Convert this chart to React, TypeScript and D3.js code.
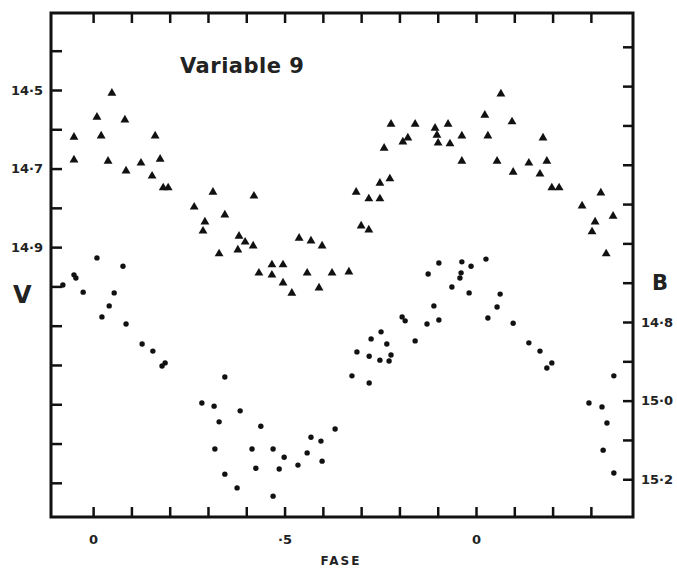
import React, { useEffect, useRef } from "react";
import * as d3 from "d3";

// V magnitudes (triangles)
const phaseV = [
  -0.05, -0.05, 0.01, 0.021, 0.049, 0.039, 0.083, 0.086, 0.125, 0.162, 0.175, 0.154, 0.183, 0.196,
  0.264, 0.313, 0.292, 0.287, 0.344, 0.42, 0.381, 0.397, 0.418, 0.378, 0.329, 0.538, 0.569, 0.598,
  0.433, 0.467, 0.467, 0.496, 0.496, 0.519, 0.559, 0.59, 0.624, 0.668, 0.687, 0.72, 0.749, 0.749,
  0.775, 0.7, 0.72, 0.76, 0.778, 0.809, 0.822, 0.841, 0.893, 0.898, 0.901, 0.927, 0.932, 0.963,
  0.963, 1.023, 1.065, 1.094, 1.031, 1.055, 1.097, 1.138, 1.175, 1.185, 1.167, 1.198, 1.217, 1.277,
  1.326, 1.358, 1.311, 1.303, 1.34
];
const magV = [
  14.62, 14.678, 14.569, 14.617, 14.508, 14.681, 14.576, 14.706, 14.686, 14.617, 14.676, 14.719, 14.749, 14.749,
  14.798, 14.76, 14.836, 14.859, 14.818, 14.77, 14.872, 14.887, 14.897, 14.907, 14.917, 14.877, 14.884, 14.897,
  14.966, 14.945, 14.971, 14.945, 14.991, 15.017, 14.966, 15.004, 14.966, 14.963, 14.76, 14.777, 14.777, 14.737,
  14.726, 14.846, 14.856, 14.648, 14.587, 14.632, 14.622, 14.587, 14.597, 14.615, 14.635, 14.587, 14.637, 14.617,
  14.681, 14.564, 14.51, 14.581, 14.617, 14.681, 14.709, 14.686, 14.622, 14.681, 14.714, 14.749, 14.749, 14.795,
  14.762, 14.821, 14.836, 14.861, 14.917
];

// B magnitudes (dots)
const phaseB = [
  -0.079, -0.05, -0.045, 0.01, 0.078, -0.026, 0.055, 0.042, 0.023, 0.086, 0.128, 0.156, 0.18, 0.188,
  0.344, 0.284, 0.316, 0.384, 0.329, 0.438, 0.318, 0.415, 0.47, 0.499, 0.425, 0.486, 0.344, 0.376,
  0.47, 0.535, 0.559, 0.569, 0.595, 0.598, 0.632, 0.676, 0.721, 0.689, 0.721, 0.749, 0.778, 0.773,
  0.726, 0.752, 0.767, 0.807, 0.815, 0.841, 0.872, 0.89, 0.903, 0.875, 0.903, 0.937, 0.961, 0.958,
  0.963, 0.987, 0.982, 1.026, 1.031, 1.055, 1.063, 1.097, 1.138, 1.167, 1.185, 1.198, 1.36, 1.295,
  1.329, 1.342, 1.332, 1.36
];
const magB = [
  14.706, 14.68, 14.688, 14.637, 14.658, 14.724, 14.726, 14.759, 14.787, 14.805, 14.856, 14.874, 14.912, 14.904,
  14.94, 15.006, 15.014, 15.026, 15.054, 15.065, 15.123, 15.123, 15.123, 15.144, 15.172, 15.174, 15.187, 15.222,
  15.243, 15.164, 15.133, 15.093, 15.103, 15.154, 15.072, 14.937, 14.955, 14.876, 14.887, 14.897, 14.884, 14.899,
  14.843, 14.825, 14.856, 14.787, 14.797, 14.848, 14.805, 14.759, 14.795, 14.678, 14.65, 14.711, 14.675, 14.688,
  14.647, 14.658, 14.726, 14.64, 14.79, 14.762, 14.729, 14.803, 14.853, 14.874, 14.917, 14.904, 14.937, 15.006,
  15.016, 15.057, 15.126, 15.184
];

const phaseTicks = [0, 0.1, 0.2, 0.3, 0.4, 0.5, 0.6, 0.7, 0.8, 0.9, 1.0, 1.1, 1.2, 1.3];
const phaseLabels = ["0", "", "", "", "", "·5", "", "", "", "", "0", "", "", ""];
const vTicks = [14.4, 14.5, 14.6, 14.7, 14.8, 14.9, 15.0, 15.1, 15.2, 15.3, 15.4, 15.5];
const vLabels = ["", "14·5", "", "14·7", "", "14·9", "", "", "", "", "", ""];
const bTicks = [14.1, 14.2, 14.3, 14.4, 14.5, 14.6, 14.7, 14.8, 14.9, 15.0, 15.1, 15.2];
const bLabels = ["", "", "", "", "", "", "", "14·8", "", "15·0", "", "15·2"];

function App() {
  const ref = useRef<SVGSVGElement>(null);

  useEffect(() => {
    const width = 677;
    const height = 568;
    const margin = { top: 13, right: 44, bottom: 51, left: 51 };
    const ink = "#111";
    const font = "'DejaVu Sans', sans-serif";

    const svg = d3.select(ref.current);
    svg.selectAll("*").remove();

    const x = d3.scaleLinear().domain([-0.11, 1.41]).range([margin.left, width - margin.right]);
    const yV = d3.scaleLinear().domain([14.304, 15.587]).range([margin.top, height - margin.bottom]);
    const yB = d3.scaleLinear().domain([14.014, 15.296]).range([margin.top, height - margin.bottom]);

    const styleAxis = (g: any) => {
      g.select(".domain").remove();
      g.selectAll(".tick line").attr("stroke", ink).attr("stroke-width", 2.5);
      g.selectAll(".tick text")
        .attr("fill", "#222")
        .style("font-family", font)
        .style("font-weight", "bold")
        .style("font-size", "13px");
    };

    // ejes (ticks hacia dentro)
    svg.append("g")
      .attr("transform", `translate(${margin.left},0)`)
      .call(d3.axisLeft(yV).tickValues(vTicks).tickSize(-11).tickPadding(8)
        .tickFormat((d, i) => vLabels[i]))
      .call(styleAxis);

    svg.append("g")
      .attr("transform", `translate(${width - margin.right},0)`)
      .call(d3.axisRight(yB).tickValues(bTicks).tickSize(-10).tickPadding(8)
        .tickFormat((d, i) => bLabels[i]))
      .call(styleAxis);

    svg.append("g")
      .attr("transform", `translate(0,${height - margin.bottom})`)
      .call(d3.axisBottom(x).tickValues(phaseTicks).tickSize(-10).tickPadding(18)
        .tickFormat((d, i) => phaseLabels[i]))
      .call(styleAxis);

    svg.append("g")
      .attr("transform", `translate(0,${margin.top})`)
      .call(d3.axisTop(x).tickValues(phaseTicks).tickSize(-10).tickFormat(() => ""))
      .call(styleAxis);

    // marco
    svg.append("rect")
      .attr("x", margin.left)
      .attr("y", margin.top)
      .attr("width", width - margin.left - margin.right)
      .attr("height", height - margin.top - margin.bottom)
      .attr("fill", "none")
      .attr("stroke", ink)
      .attr("stroke-width", 3);

    // triangulos V
    const tri = d3.symbol().type(d3.symbolTriangle).size(34);
    svg.append("g")
      .selectAll("path")
      .data(phaseV.map((p, i) => [p, magV[i]]))
      .join("path")
      .attr("d", tri)
      .attr("transform", d => `translate(${x(d[0])},${yV(d[1])})`)
      .attr("fill", ink);

    // puntos B
    svg.append("g")
      .selectAll("circle")
      .data(phaseB.map((p, i) => [p, magB[i]]))
      .join("circle")
      .attr("cx", d => x(d[0]))
      .attr("cy", d => yB(d[1]))
      .attr("r", 2.7)
      .attr("fill", ink);

    // textos
    svg.append("text")
      .attr("x", 180)
      .attr("y", 73)
      .attr("fill", "#222")
      .style("font-family", font)
      .style("font-weight", "bold")
      .style("font-size", "21px")
      .style("letter-spacing", "0.5px")
      .text("Variable 9");

    svg.append("text")
      .attr("x", 13)
      .attr("y", 303)
      .attr("fill", "#222")
      .style("font-family", font)
      .style("font-weight", "bold")
      .style("font-size", "24px")
      .text("V");

    svg.append("text")
      .attr("x", 652)
      .attr("y", 290)
      .attr("fill", "#222")
      .style("font-family", font)
      .style("font-weight", "bold")
      .style("font-size", "21px")
      .text("B");

    svg.append("text")
      .attr("x", 341)
      .attr("y", 565)
      .attr("text-anchor", "middle")
      .attr("fill", "#222")
      .style("font-family", font)
      .style("font-weight", "bold")
      .style("font-size", "12px")
      .style("letter-spacing", "2px")
      .text("FASE");
  }, []);

  return (
    <svg
      ref={ref}
      width={677}
      height={568}
      style={{ position: "absolute", left: 0, top: 0, background: "#fff" }}
    />
  );
}

export default App;
